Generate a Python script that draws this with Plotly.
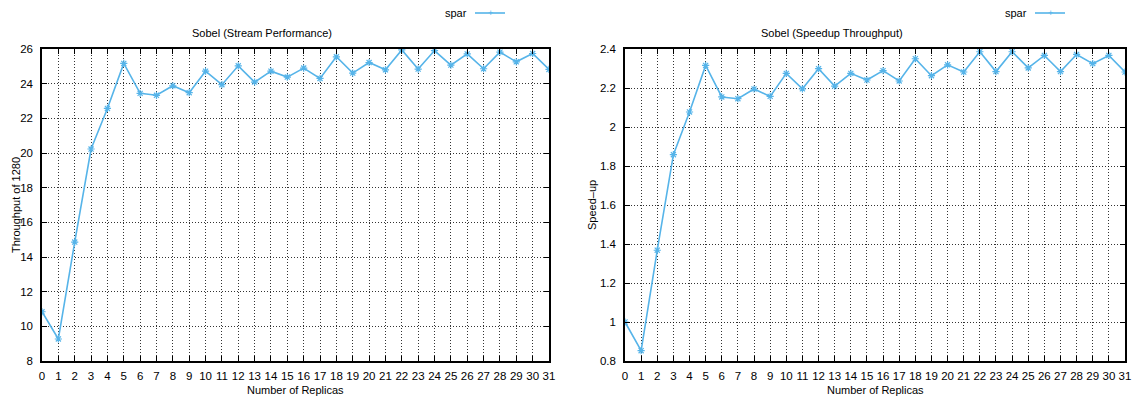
import plotly.graph_objects as go

replicas = list(range(32))
throughput = [10.84, 9.27, 14.86, 20.23, 22.57, 25.17, 23.44, 23.33, 23.88, 23.48,
              24.72, 23.94, 25.03, 24.09, 24.72, 24.38, 24.9, 24.3, 25.55, 24.61,
              25.22, 24.8, 25.95, 24.84, 25.91, 25.07, 25.72, 24.86, 25.82, 25.26,
              25.74, 24.82]
speedup = [1.0, 0.853, 1.368, 1.858, 2.077, 2.316, 2.154, 2.145, 2.195, 2.157,
           2.275, 2.196, 2.299, 2.21, 2.275, 2.241, 2.289, 2.236, 2.35, 2.263,
           2.319, 2.282, 2.386, 2.284, 2.386, 2.303, 2.367, 2.284, 2.372, 2.325,
           2.367, 2.282]
series_name = "spar"
titles = ["Sobel (Stream Performance)", "Sobel (Speedup Throughput)"]
ytitles = ["Throughput of 1280", "Speed\u2013up"]
xtitle = "Number of Replicas"

COLOR = "#56B4E9"
FONT = "Liberation Sans, Arial, sans-serif"
W, H = 1136, 398
TXT = 11

fig = go.Figure()
line = dict(color=COLOR, width=1.6)
marker = dict(symbol="asterisk-open", size=6, line=dict(color=COLOR, width=1.2), color=COLOR)
fig.add_trace(go.Scatter(x=replicas, y=throughput, mode="lines+markers", name=series_name,
                         line=line, marker=marker, xaxis="x", yaxis="y", showlegend=False))
fig.add_trace(go.Scatter(x=replicas, y=speedup, mode="lines+markers", name=series_name,
                         line=line, marker=marker, xaxis="x2", yaxis="y2", showlegend=False))

PT, PB = 49, 361
ydom = [(H - PB) / H, (H - PT) / H]
common = dict(showline=True, linecolor="black", linewidth=1.5, mirror="ticks",
              ticks="inside", ticklen=5, tickcolor="black", tickwidth=1,
              showgrid=True, gridcolor="rgba(0,0,0,0.8)", griddash="1px,2px", gridwidth=1,
              zeroline=False, automargin=False, ticklabeloverflow="allow",
              tickfont=dict(family=FONT, size=11.5, color="black"))

xdom1 = [42 / W, 549 / W]
xdom2 = [625 / W, 1125 / W]

fig.update_layout(
    width=W, height=H, margin=dict(l=0, r=0, t=0, b=0, autoexpand=False),
    paper_bgcolor="white", plot_bgcolor="white",
    font=dict(family=FONT, size=TXT, color="black"),
    xaxis=dict(domain=xdom1, range=[0, 31], dtick=1, anchor="y", ticklabelstandoff=3, **common),
    yaxis=dict(domain=ydom, range=[8, 26], dtick=2, anchor="x", ticklabelstandoff=5, **common),
    xaxis2=dict(domain=xdom2, range=[0, 31], dtick=1, anchor="y2", ticklabelstandoff=3, **common),
    yaxis2=dict(domain=ydom, range=[0.8, 2.4], dtick=0.2, anchor="x2", ticklabelstandoff=5, **common),
    showlegend=False,
)

def ann(x, y, text, **kw):
    fig.add_annotation(x=x / W, y=(H - y) / H, xref="paper", yref="paper", text=text,
                       showarrow=False, font=kw.pop("font", dict(size=TXT)),
                       xanchor=kw.pop("xanchor", "center"), yanchor="middle", **kw)

# Titles
for cx, t in zip([262, 832], titles):
    ann(cx, 33, t)

# Axis titles
for xd in (xdom1, xdom2):
    ann((xd[0] + xd[1]) / 2 * W, 390, xtitle)
ann(16, (PT + PB) / 2, ytitles[0], textangle=-90)
ann(592, (PT + PB) / 2, ytitles[1], textangle=-90)

# Legend keys (gnuplot style: label then line sample)
for text_right, l0, l1 in [(469, 475, 505), (1029, 1035, 1065)]:
    ann(text_right, 13, series_name, xanchor="right")
    fig.add_shape(type="line", xref="paper", yref="paper",
                  x0=l0 / W, x1=l1 / W, y0=(H - 13) / H, y1=(H - 13) / H,
                  line=dict(color=COLOR, width=1.6))
    ann((l0 + l1) / 2, 13, "+", font=dict(size=9, color=COLOR))

fig.write_html("out.html", config={"displayModeBar": False},
               post_script="document.body.style.margin='0';document.body.style.overflow='hidden';")
